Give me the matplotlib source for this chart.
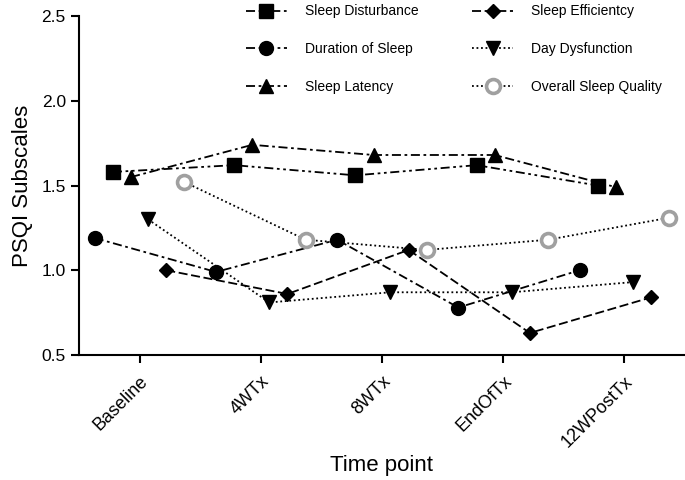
import matplotlib
matplotlib.use("Agg")
import matplotlib.pyplot as plt
import numpy as np

plt.rcParams['font.family'] = ['Liberation Sans', 'DejaVu Sans']

categories = ["Baseline", "4WTx", "8WTx", "EndOfTx", "12WPostTx"]
sleep_disturbance = [1.58, 1.62, 1.56, 1.62, 1.50]
duration_of_sleep = [1.19, 0.99, 1.18, 0.78, 1.00]
sleep_latency = [1.55, 1.74, 1.68, 1.68, 1.49]
sleep_efficiency = [1.00, 0.86, 1.12, 0.63, 0.84]
day_dysfunction = [1.30, 0.81, 0.87, 0.87, 0.93]
overall_quality = [1.52, 1.18, 1.12, 1.18, 1.31]

fig = plt.figure(figsize=(6.85, 4.8), dpi=100)
ax = fig.add_axes([79/685, 1-355/480, 1-79/685, (355-16)/480])

x = np.arange(len(categories))
lw = 1.3
series = [
    ("Sleep Disturbance", sleep_disturbance, -0.22, dict(marker='s', ms=10, color='black', ls=(0, (5, 2, 1.5, 2, 1.5, 2)))),
    ("Duration of Sleep", duration_of_sleep, -0.37, dict(marker='o', ms=10, color='black', ls=(0, (5, 2, 1.5, 2)))),
    ("Sleep Latency", sleep_latency, -0.07, dict(marker='^', ms=10, color='black', ls=(0, (5, 2, 1.5, 2)))),
    ("Sleep Efficientcy", sleep_efficiency, 0.22, dict(marker='D', ms=7.5, color='black', ls=(0, (5, 2)))),
    ("Day Dysfunction", day_dysfunction, 0.07, dict(marker='v', ms=10, color='black', ls=(0, (1, 1.5)))),
    ("Overall Sleep Quality", overall_quality, 0.37, dict(marker='o', ms=10, color='black', ls=(0, (1, 1.5)),
                                                         mfc='white', mec='#a0a0a0', mew=2.6)),
]

handles = []
for label, vals, off, st in series:
    h, = ax.plot(x + off, vals, lw=lw, label=label, **st)
    handles.append(h)

ax.set_xlim(-0.5, 4.5)
ax.set_ylim(0.5, 2.5)
ax.set_yticks([0.5, 1.0, 1.5, 2.0, 2.5])
ax.set_yticklabels(["0.5", "1.0", "1.5", "2.0", "2.5"], fontsize=12.5)
ax.set_xticks(x)
ax.set_xticklabels(categories, rotation=45, ha='right', rotation_mode='anchor', fontsize=13)
ax.tick_params(direction='out', length=6, width=1.5)
ax.tick_params(axis='x', pad=7)
for s in ['top', 'right']:
    ax.spines[s].set_visible(False)
for s in ['left', 'bottom']:
    ax.spines[s].set_linewidth(1.5)
ax.set_ylabel("PSQI Subscales", fontsize=16, labelpad=6)
ax.set_xlabel("Time point", fontsize=16)
ax.xaxis.set_label_coords((381.5 - 79) / 606, (355 - 455) / 339)

fig.legend(handles=handles, ncol=2, loc='upper left', bbox_to_anchor=(238/685, 1.008),
           frameon=False, fontsize=10, handlelength=2.9, handletextpad=1.3,
           labelspacing=1.7, columnspacing=3.9, borderpad=0.1)

fig.savefig("out.png", dpi=100)
